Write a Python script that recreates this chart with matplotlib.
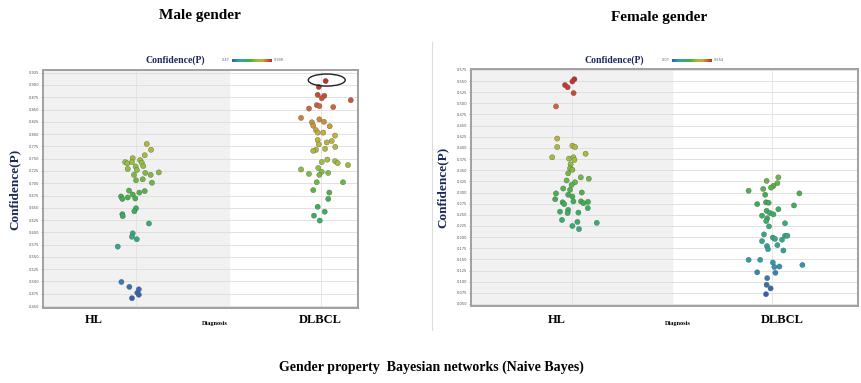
import numpy as np
import matplotlib
matplotlib.use("Agg")
import matplotlib.pyplot as plt
from matplotlib.colors import LinearSegmentedColormap
from matplotlib.patches import Ellipse

# ---- data ----
categories = ["HL", "DLBCL"]

# male gender, HL
male_hl = [0.780, 0.768, 0.757, 0.751, 0.747, 0.743, 0.7405, 0.743, 0.742, 0.735,
           0.734, 0.729, 0.727, 0.722, 0.721, 0.717, 0.717, 0.708, 0.706, 0.701,
           0.685, 0.684, 0.681, 0.677, 0.673, 0.671, 0.669, 0.668, 0.649, 0.643,
           0.637, 0.633, 0.618, 0.598, 0.591, 0.586, 0.571, 0.499, 0.489, 0.484,
           0.477, 0.473, 0.466]
male_hl_jit = [0.058, 0.081, 0.047, -0.018, 0.022, -0.059, -0.047, -0.022, 0.031, 0.039,
               -0.002, -0.045, 0.004, 0.123, 0.050, 0.079, -0.011, 0.036, 0.0, 0.086,
               -0.038, 0.047, 0.018, -0.018, -0.081, -0.045, -0.004, -0.074, 0.0, -0.009,
               -0.074, -0.072, 0.070, -0.018, -0.022, 0.004, -0.099, -0.079, -0.036, 0.015,
               0.007, 0.015, -0.022]

# male gender, DLBCL
male_dl = [0.908, 0.896, 0.880, 0.878, 0.873, 0.869, 0.859, 0.857, 0.852, 0.855,
           0.833, 0.830, 0.825, 0.824, 0.817, 0.816, 0.808, 0.803, 0.803, 0.797,
           0.788, 0.786, 0.783, 0.779, 0.774, 0.770, 0.768, 0.766, 0.748, 0.743,
           0.745, 0.741, 0.737, 0.728, 0.731, 0.723, 0.719, 0.721, 0.717, 0.702,
           0.702, 0.686, 0.681, 0.668, 0.652, 0.642, 0.634, 0.624]
male_dl_jit = [0.025, -0.012, -0.018, 0.018, 0.004, 0.161, -0.023, -0.009, -0.065, 0.066,
               -0.108, -0.009, 0.016, -0.049, -0.042, 0.047, -0.027, -0.018, 0.012, 0.076,
               -0.018, 0.058, 0.031, -0.012, 0.077, 0.022, -0.027, -0.042, 0.034, 0.004,
               0.076, 0.090, 0.146, -0.108, -0.015, 0.004, -0.065, 0.039, -0.009, -0.023,
               0.119, -0.042, 0.045, 0.039, -0.018, 0.020, -0.038, -0.007]

# female gender, HL
female_hl = [0.554, 0.549, 0.541, 0.536, 0.523, 0.493, 0.421, 0.402, 0.405, 0.402,
             0.387, 0.379, 0.376, 0.379, 0.373, 0.363, 0.354, 0.351, 0.343, 0.334,
             0.331, 0.327, 0.323, 0.317, 0.309, 0.306, 0.298, 0.295, 0.291, 0.300,
             0.285, 0.280, 0.278, 0.279, 0.274, 0.280, 0.276, 0.265, 0.261, 0.254,
             0.257, 0.255, 0.2385, 0.234, 0.232, 0.225, 0.218]
female_hl_jit = [0.012, 0.002, -0.035, -0.022, 0.008, -0.080, -0.074, -0.074, 0.002, 0.015,
                 0.068, -0.099, -0.015, 0.007, 0.012, -0.007, -0.010, 0.002, -0.019, 0.044,
                 0.084, -0.027, 0.015, -0.002, -0.044, -0.010, -0.080, -0.019, 0.002, 0.049,
                 -0.084, 0.045, -0.047, 0.080, -0.039, 0.007, 0.057, 0.079, -0.019, -0.022,
                 -0.060, 0.032, -0.050, 0.027, 0.124, 0.002, 0.035]

# female gender, DLBCL
female_dl = [0.334, 0.326, 0.321, 0.315, 0.311, 0.308, 0.304, 0.298, 0.295, 0.278,
             0.277, 0.274, 0.271, 0.2625, 0.259, 0.254, 0.251, 0.248, 0.242, 0.236,
             0.224, 0.231, 0.206, 0.199, 0.196, 0.203, 0.203, 0.194, 0.191, 0.180,
             0.182, 0.173, 0.170, 0.149, 0.149, 0.143, 0.1375, 0.134, 0.133, 0.121,
             0.120, 0.108, 0.093, 0.085, 0.072]
female_dl_jit = [0.032, -0.027, 0.027, 0.007, -0.005, -0.044, -0.117, 0.137, -0.034, -0.030,
                 -0.017, -0.074, 0.110, 0.032, -0.027, -0.010, 0.007, -0.050, -0.024, -0.029,
                 -0.015, 0.065, -0.040, 0.004, 0.015, 0.065, 0.077, 0.050, -0.050, -0.025,
                 0.027, -0.020, 0.057, -0.117, -0.059, 0.004, 0.152, 0.037, 0.012, -0.074,
                 0.017, -0.024, -0.027, -0.007, -0.030]

male_ticks = np.arange(0.450, 0.9251, 0.025)
female_ticks = np.arange(0.050, 0.5751, 0.025)

cmap = LinearSegmentedColormap.from_list(
    "conf", [(0.0, "#3a5cae"), (0.15, "#2e9cb4"), (0.3, "#2fae78"), (0.45, "#3cb04a"),
             (0.62, "#98c03c"), (0.76, "#c8b034"), (0.87, "#d4683a"), (1.0, "#c42c28")])

SERIF = ["Liberation Serif", "DejaVu Serif"]
NAVY = "#1c2857"

fig = plt.figure(figsize=(8.62, 3.83), dpi=100)


def panel(rect, hl, hl_j, dl, dl_j, ticks, ylim, xlim):
    ax = fig.add_axes(rect)
    vals = np.concatenate([hl, dl])
    vmin, vmax = vals.min(), vals.max()
    ax.axvspan(xlim[0], 0.5, color="#f1f1f1", zorder=0)
    for t in ticks:
        ax.axhline(t, color="#dcdcdc", lw=0.6, zorder=1)
    ax.axvline(0, color="#e2e2e2", lw=0.6, zorder=1)
    ax.axvline(1, color="#e2e2e2", lw=0.6, zorder=1)
    for i, (v, j) in enumerate([(hl, hl_j), (dl, dl_j)]):
        v = np.asarray(v)
        x = i + np.asarray(j)
        ax.scatter(x, v, c=v, cmap=cmap, vmin=vmin, vmax=vmax, s=14,
                   edgecolors="#555555", linewidths=0.25, zorder=3)
    ax.set_xlim(*xlim)
    ax.set_ylim(*ylim)
    ax.set_yticks(ticks)
    ax.set_yticklabels(["%.3f" % t for t in ticks], fontsize=2.6, color="#555555")
    ax.tick_params(axis="y", length=1.5, width=0.4, pad=1, color="#888888")
    ax.set_xticks([])
    for s in ax.spines.values():
        s.set_color("#a0a0a0")
        s.set_linewidth(1.4)
    ax.set_ylabel("Confidence(P)", fontsize=9.5, fontweight="bold", family=SERIF,
                  color=NAVY, labelpad=6)
    return ax, vmin, vmax


axl, lmin, lmax = panel([43 / 862, 1 - 308 / 383, 315 / 862, 238 / 383],
                        male_hl, male_hl_jit, male_dl, male_dl_jit,
                        male_ticks, (0.446, 0.9305), (-0.503, 1.2))
axr, rmin, rmax = panel([471 / 862, 1 - 306 / 383, 387 / 862, 237 / 383],
                        female_hl, female_hl_jit, female_dl, female_dl_jit,
                        female_ticks, (0.0455, 0.577), (-0.505, 1.43))

# circled maximum in the male DLBCL group
axl.add_patch(Ellipse((1.031, 0.910), 0.2, 0.0245, fill=False,
                      edgecolor="#222222", lw=1.0, zorder=4))


def colorbar_legend(x0, lab_x, lo, hi):
    fig.text(lab_x / 862, 1 - 60 / 383, "Confidence(P)", fontsize=7, fontweight="bold",
             family=SERIF, color=NAVY, ha="center", va="center")
    cax = fig.add_axes([x0 / 862, 1 - 62 / 383, 40 / 862, 3.5 / 383])
    cax.imshow(np.linspace(0, 1, 100)[None, :], cmap=cmap, aspect="auto")
    cax.axis("off")
    fig.text((x0 - 2) / 862, 1 - 60 / 383, "%.2f" % lo, fontsize=2.5, ha="right",
             va="center", color="#666666")
    fig.text((x0 + 42) / 862, 1 - 60 / 383, "%.3f" % hi, fontsize=2.5, ha="left",
             va="center", color="#666666")


colorbar_legend(232, 175, lmin, lmax)
colorbar_legend(672, 614, rmin, rmax)

# titles and category labels
fig.text(200 / 862, 1 - 16 / 383, "Male gender", fontsize=11, fontweight="bold",
         family=SERIF, ha="center", va="center")
fig.text(659 / 862, 1 - 17 / 383, "Female gender", fontsize=11, fontweight="bold",
         family=SERIF, ha="center", va="center")
for x, lab in [(94, categories[0]), (320, categories[1]),
               (557, categories[0]), (782, categories[1])]:
    fig.text(x / 862, 1 - 320 / 383, lab, fontsize=9, fontweight="bold", family=SERIF,
             ha="center", va="center")
for x in (215, 678):
    fig.text(x / 862, 1 - 324 / 383, "Diagnosis", fontsize=4.5, fontweight="bold",
             family=SERIF, ha="center", va="center")
fig.text(431 / 862, 1 - 367 / 383, "Gender property  Bayesian networks (Naive Bayes)",
         fontsize=10, fontweight="bold", family=SERIF, ha="center", va="center")

# separator between the two screenshots
fig.add_artist(plt.Line2D([432 / 862, 432 / 862], [1 - 330 / 383, 1 - 42 / 383],
                          color="#dddddd", lw=0.8))

fig.savefig("out.png", dpi=100)
